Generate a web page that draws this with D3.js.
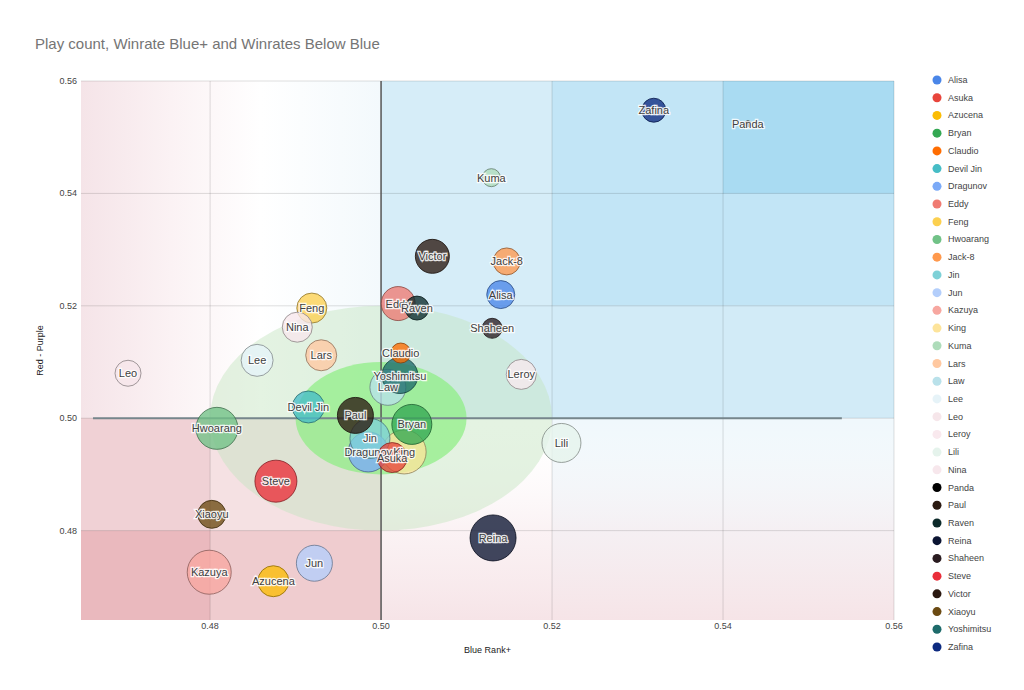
<!DOCTYPE html>
<html>
<head>
<meta charset="utf-8">
<script src="https://cdn.jsdelivr.net/npm/d3@7"></script>
<style>
  body { margin: 0; background: #fff; }
  text { font-family: "Liberation Sans", Arial, sans-serif; }
</style>
</head>
<body>
<div id="root"></div>
<script>
// characters, in legend order
const names = ["Alisa","Asuka","Azucena","Bryan","Claudio","Devil Jin","Dragunov","Eddy","Feng","Hwoarang",
  "Jack-8","Jin","Jun","Kazuya","King","Kuma","Lars","Law","Lee","Leo","Leroy","Lili","Nina","Panda",
  "Paul","Raven","Reina","Shaheen","Steve","Victor","Xiaoyu","Yoshimitsu","Zafina"];
// winrate at Blue rank and above (x)
const blueRank = [0.5140,0.5013,0.4874,0.5036,0.5023,0.4915,0.4985,0.5020,0.4919,0.4808,
  0.5147,0.4987,0.4922,0.4799,0.5027,0.5129,0.4930,0.5008,0.4855,0.4704,0.5164,0.5211,0.4902,0.5429,
  0.4970,0.5042,0.5131,0.5130,0.4877,0.5060,0.4802,0.5022,0.5319];
// winrate red to purple ranks (y)
const redPurple = [0.5220,0.4930,0.4710,0.4989,0.5116,0.5020,0.4940,0.5204,0.5196,0.4982,
  0.5279,0.4964,0.4742,0.4726,0.4940,0.5428,0.5112,0.5055,0.5103,0.5080,0.5078,0.4956,0.5162,0.5524,
  0.5005,0.5196,0.4787,0.5160,0.4888,0.5288,0.4829,0.5076,0.5548];
// play count (bubble size)
const playCount = [1960,2250,2400,4000,1000,2560,4000,2890,2250,4410,
  1820,4000,3240,4840,4840,810,2400,3240,2560,1690,2250,3800,2250,90,
  3240,1440,5290,1000,4410,2890,1960,3240,1440];

const colors = ["#4a86e8","#e8453c","#fbbc04","#34a853","#ff6d01","#46bdc6","#7baaf7","#f07b72","#fcd04f","#71c287",
  "#ff994d","#7ed1d7","#b3cefb","#f7a7a0","#fde49b","#aedcba","#ffc8a0","#b9e1ea","#e6f3f8","#f6e6ea","#f9e9ee","#e5f3ec","#f7e7ec","#000000",
  "#2b1a12","#0c2a2a","#0b1432","#2a1c20","#ea2e3a","#2a1810","#6b4a12","#1e6b6b","#0d2a80"];

const xTicks = [0.48, 0.50, 0.52, 0.54, 0.56];
const yTicks = [0.48, 0.50, 0.52, 0.54, 0.56];

// shaded background zones: [x0, x1, y0, y1, colour]
const zones = [
  [0.4649, 0.50, 0.4641, 0.50, "#f5e1e3"],
  [0.4649, 0.48, 0.48, 0.50, "#f0d1d5"],
  [0.48, 0.50, 0.4641, 0.48, "#efcccf"],
  [0.4649, 0.48, 0.4641, 0.48, "#eab9be"],
  [0.50, 0.52, 0.50, 0.56, "#d6edf8"],
  [0.52, 0.56, 0.50, 0.52, "#d2ebf7"],
  [0.52, 0.56, 0.52, 0.56, "#c2e5f6"],
  [0.54, 0.56, 0.54, 0.56, "#a9dbf2"],
  [0.52, 0.56, 0.4641, 0.50, "#f0f8fc"]
];

const W = 1024, H = 690;
const x = d3.scaleLinear().domain([0.4649, 0.56]).range([81, 894]);
const y = d3.scaleLinear().domain([0.4641, 0.56]).range([620, 81]);
const r = d3.scaleSqrt().domain([0, d3.max(playCount)]).range([0, 23]);

const svg = d3.select("#root").append("svg").attr("width", W).attr("height", H);
const defs = svg.append("defs");

// top-left: pink at the left, white in the middle, faint blue at the right
const gTL = defs.append("linearGradient").attr("id", "gTL");
gTL.append("stop").attr("offset", "0%").attr("stop-color", "#f5e4e8");
gTL.append("stop").attr("offset", "30%").attr("stop-color", "#fbf2f4");
gTL.append("stop").attr("offset", "60%").attr("stop-color", "#ffffff");
gTL.append("stop").attr("offset", "100%").attr("stop-color", "#f3f9fc");
// lower-right: white going pink towards the bottom
const gBR = defs.append("linearGradient").attr("id", "gBR").attr("x1", 0).attr("x2", 0).attr("y1", 0).attr("y2", 1);
gBR.append("stop").attr("offset", "0%").attr("stop-color", "#ffffff").attr("stop-opacity", 0);
gBR.append("stop").attr("offset", "55%").attr("stop-color", "#f8eaed").attr("stop-opacity", 0.6);
gBR.append("stop").attr("offset", "100%").attr("stop-color", "#f6e4e7").attr("stop-opacity", 1);

// title
svg.append("text").attr("x", 35).attr("y", 49)
  .style("font-size", "15px").style("fill", "#757575")
  .text("Play count, Winrate Blue+ and Winrates Below Blue");

const plot = svg.append("g");

plot.append("rect").attr("x", x(0.4649)).attr("y", y(0.56))
  .attr("width", x(0.50) - x(0.4649)).attr("height", y(0.50) - y(0.56))
  .attr("fill", "url(#gTL)");

plot.selectAll("rect.zone").data(zones).enter().append("rect")
  .attr("class", "zone")
  .attr("x", d => x(d[0])).attr("y", d => y(d[3]))
  .attr("width", d => x(d[1]) - x(d[0])).attr("height", d => y(d[2]) - y(d[3]))
  .attr("fill", d => d[4]);

plot.append("rect").attr("x", x(0.50)).attr("y", y(0.50))
  .attr("width", x(0.56) - x(0.50)).attr("height", y(0.4641) - y(0.50))
  .attr("fill", "url(#gBR)");

// gridlines
plot.selectAll("line.gx").data(xTicks).enter().append("line")
  .attr("x1", d => x(d)).attr("x2", d => x(d)).attr("y1", y(0.56)).attr("y2", y(0.4641))
  .attr("stroke", "#000").attr("stroke-opacity", 0.13);
plot.selectAll("line.gy").data(yTicks).enter().append("line")
  .attr("y1", d => y(d)).attr("y2", d => y(d)).attr("x1", x(0.4649)).attr("x2", x(0.56))
  .attr("stroke", "#000").attr("stroke-opacity", 0.13);

// "average" ellipses around 0.50/0.50
plot.append("ellipse").attr("cx", x(0.50)).attr("cy", y(0.50))
  .attr("rx", x(0.52) - x(0.50)).attr("ry", y(0.48) - y(0.50))
  .attr("fill", "rgb(196,228,190)").attr("fill-opacity", 0.45);
plot.append("ellipse").attr("cx", x(0.50)).attr("cy", y(0.50))
  .attr("rx", x(0.51) - x(0.50)).attr("ry", y(0.49) - y(0.50))
  .attr("fill", "rgb(140,238,130)").attr("fill-opacity", 0.7);

// centre lines
plot.append("line").attr("x1", x(0.50)).attr("x2", x(0.50)).attr("y1", y(0.56)).attr("y2", y(0.4641))
  .attr("stroke", "#5a5a5a").attr("stroke-width", 1.5);
plot.append("line").attr("x1", x(0.4663)).attr("x2", x(0.5539)).attr("y1", y(0.50)).attr("y2", y(0.50))
  .attr("stroke", "#76868c").attr("stroke-width", 2);

// axis tick labels
svg.selectAll("text.xt").data(xTicks).enter().append("text")
  .attr("x", d => x(d)).attr("y", 629).attr("text-anchor", "middle")
  .style("font-size", "9px").style("fill", "#444").text(d => d.toFixed(2));
svg.selectAll("text.yt").data(yTicks).enter().append("text")
  .attr("x", 77).attr("y", d => y(d) + 3).attr("text-anchor", "end")
  .style("font-size", "9px").style("fill", "#444").text(d => d.toFixed(2));

svg.append("text").attr("x", (x(0.4649) + x(0.56)) / 2).attr("y", 653).attr("text-anchor", "middle")
  .style("font-size", "9px").style("fill", "#222").text("Blue Rank+");
svg.append("text").attr("transform", "translate(43," + (y(0.4641) + y(0.56)) / 2 + ") rotate(-90)")
  .attr("text-anchor", "middle")
  .style("font-size", "9px").style("fill", "#222").text("Red - Purple");

// bubbles, biggest first
const people = names.map((n, i) => ({name: n, bx: blueRank[i], ry: redPurple[i], count: playCount[i], color: colors[i]}));
const order = people.slice().sort((a, b) => b.count - a.count);

plot.selectAll("circle.bubble").data(order).enter().append("circle")
  .attr("class", "bubble")
  .attr("cx", d => x(d.bx)).attr("cy", d => y(d.ry)).attr("r", d => r(d.count))
  .attr("fill", d => d.color)
  .attr("fill-opacity", 0.78)
  .attr("stroke", d => d3.color(d.color).darker(1.6))
  .attr("stroke-opacity", 0.8)
  .attr("stroke-width", 1);

plot.selectAll("text.label").data(order).enter().append("text")
  .attr("class", "label")
  .attr("x", d => x(d.bx)).attr("y", d => y(d.ry) + 4)
  .attr("text-anchor", "middle")
  .style("font-size", "11px").style("fill", "#404040")
  .style("stroke", "#fff").style("stroke-width", 2.5).style("stroke-opacity", 0.85)
  .style("paint-order", "stroke")
  .text(d => d.name);

// legend
const legend = svg.append("g");
const ly = d3.scalePoint().domain(names).range([80, 647]);
legend.selectAll("circle").data(people).enter().append("circle")
  .attr("cx", 937).attr("cy", d => ly(d.name)).attr("r", 4.5).attr("fill", d => d.color);
legend.selectAll("text").data(people).enter().append("text")
  .attr("x", 948).attr("y", d => ly(d.name) + 3)
  .style("font-size", "9px").style("fill", "#444").text(d => d.name);
</script>
</body>
</html>
